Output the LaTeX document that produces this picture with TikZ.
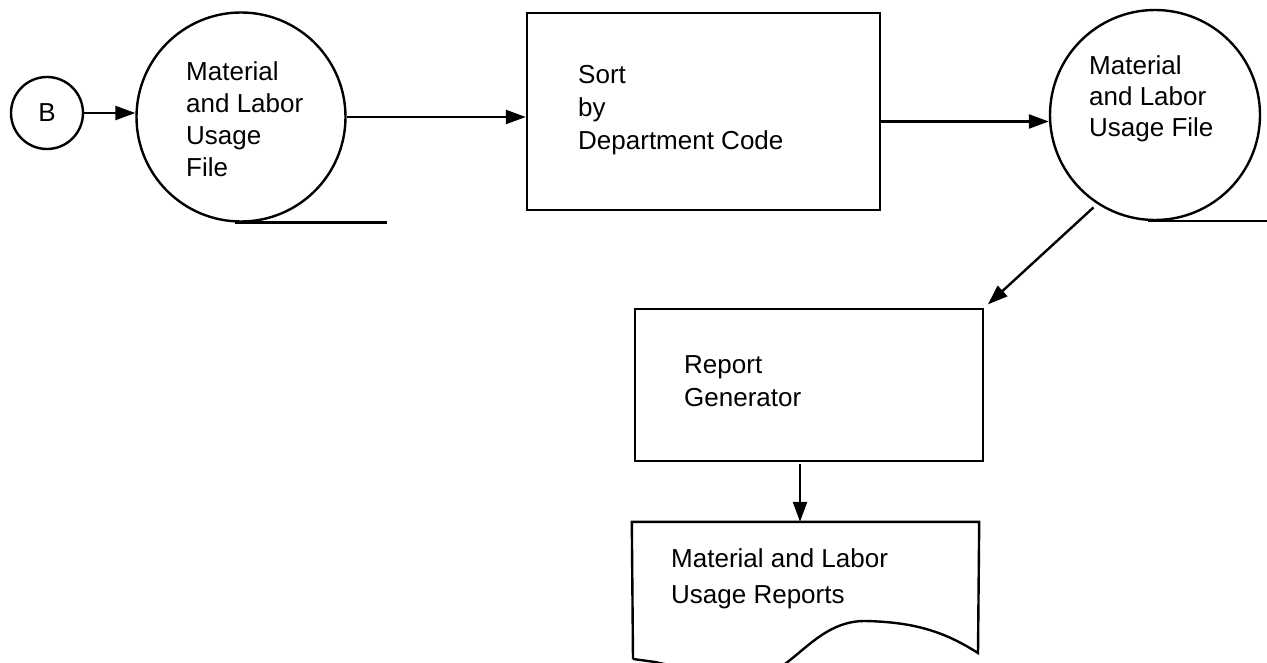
\documentclass[tikz,border=0pt]{standalone}
\usepackage{fontspec}
\setmainfont{Liberation Sans}
\usetikzlibrary{arrows.meta,calc}
\begin{document}
\begin{tikzpicture}[x=1pt,y=-1pt,line width=2.4pt,
  flow/.style={-{Triangle[length=20pt,width=14pt]}},
  store/.style={circle,draw,inner sep=0pt},
  procbox/.style={rectangle,draw,inner sep=0pt},
  txt/.style={anchor=west,align=left,inner sep=0pt},
  fs/.style={font=\fontsize{26}{#1}\selectfont}]
\useasboundingbox (0,0) rectangle (1267,663);
\clip (0,0) rectangle (1267,663);

% connector B and the stored files
\node[store,minimum size=72pt] (B) at (47,113) {\fontsize{26}{30}\selectfont B};
\node[store,minimum size=209pt] (c1) at (241,117) {};
\node[txt,fs=32] (c1t) at (185,119.5) {Material\\and Labor\\Usage\\File};
\node[store,minimum size=210pt] (c2) at (1155,115) {};
\node[txt,fs=31] (c2t) at (1088,99) {Material\\and Labor\\Usage File};

% processes
\node[procbox,minimum width=353pt,minimum height=197pt] (sort) at (703.5,111.5) {};
\node[txt,fs=33] (sortt) at (577,110) {Sort\\by\\Department Code};
\node[procbox,minimum width=348pt,minimum height=152pt] (rep) at (809,385) {};
\node[txt,fs=33] (rept) at (683,381.5) {Report\\Generator};

% report document with a wavy lower edge
\node[minimum width=345pt,minimum height=137pt,inner sep=0pt] (doc) at (805.5,591.5) {};
\node[txt,fs=36] (doct) at (670,578.5) {Material and Labor\\Usage Reports};
\draw (633,659) -- (doc.north west) -- (doc.north east) -- (978,653)
  .. controls (945,632) and (915,622) .. (865,621)
  .. controls (830,621) and (810,645) .. (785,664)
  .. controls (760,680) and (680,668) .. (655,662) -- (633,659);

% file underlines
\draw ([xshift=-6pt]c1.south) -- ([xshift=146pt]c1.south);
\draw ([xshift=-7pt]c2.south) -- ([xshift=120pt]c2.south);

% flows
\draw[flow] (B.east) -- (B.east -| c1.west);
\draw[flow] (c1.east) -- (c1.east -| sort.west);
\coordinate (s2) at ([yshift=-10pt]sort.east);
\draw[flow] (s2) -- (s2 -| c2.west);
\draw[flow,shorten <=5pt,shorten >=5pt] (c2.237) -- (rep.north east);
\coordinate (r2) at ([xshift=-9pt]rep.south);
\draw[flow,shorten <=2pt] (r2) -- (r2 |- doc.north);
\end{tikzpicture}
\end{document}
